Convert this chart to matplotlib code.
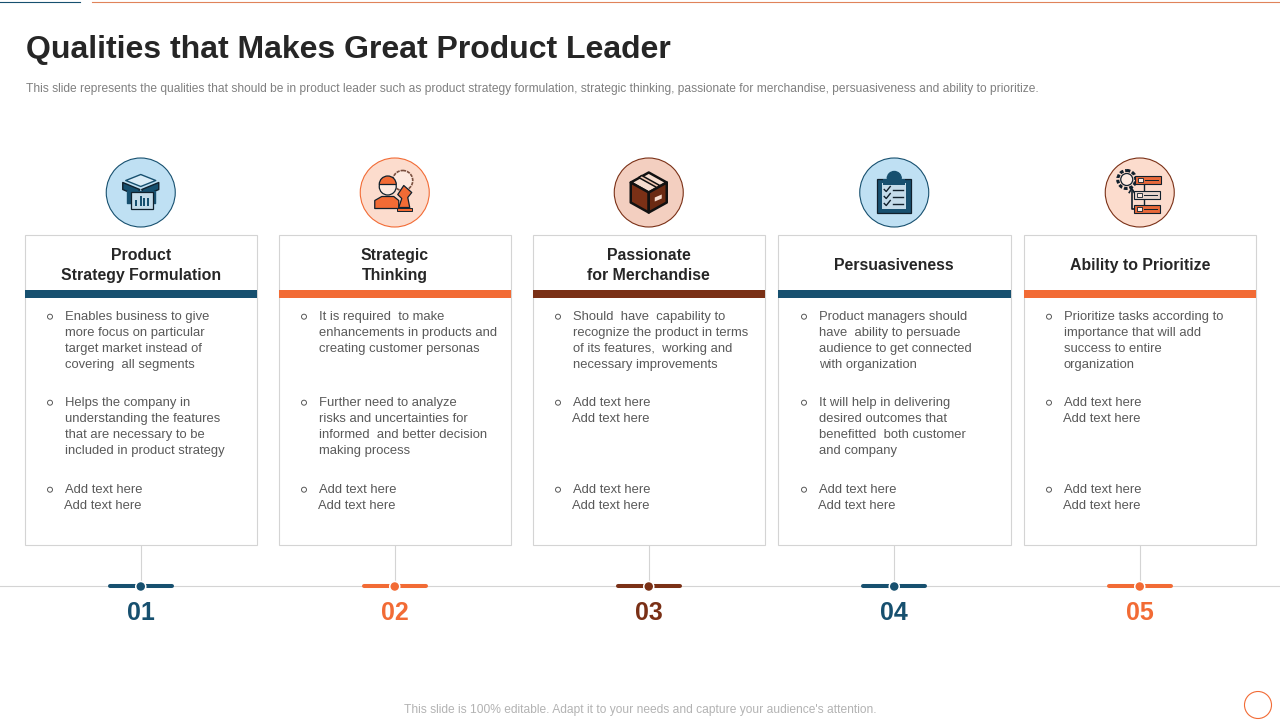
import matplotlib
matplotlib.use('Agg')
import matplotlib.pyplot as plt, matplotlib.patches as mpatches

plt.rcParams['font.family'] = ['Liberation Sans', 'DejaVu Sans']

NAVY = '#17506f'
ORANGE = '#f26b35'
BROWN = '#7a3016'
GREY_LINE = '#d4d4d4'
TEXT = '#595959'
DARK = '#262626'

title = 'Qualities that Makes Great Product Leader'
subtitle = ('This slide represents the qualities that should be in product leader such as product strategy '
            'formulation, strategic thinking, passionate for merchandise, persuasiveness and ability to prioritize.')
footer = "This slide is 100% editable. Adapt it to your needs and capture your audience's attention."

numbers = ['01', '02', '03', '04', '05']
headings = ['Product\nStrategy Formulation', 'Strategic\nThinking', 'Passionate\nfor Merchandise',
            'Persuasiveness', 'Ability to Prioritize']
card_colors = [NAVY, ORANGE, BROWN, NAVY, ORANGE]
circle_fill = ['#bfe0f3', '#fcdccd', '#f3cfc0', '#bfe0f3', '#fcdccd']
circle_edge = [NAVY, ORANGE, BROWN, NAVY, BROWN]
card_left = [25, 279, 533, 778, 1024]
card_right = [256.5, 510.5, 764.5, 1010.5, 1255.5]
text_left = [65, 319, 573, 819, 1064]

bullets = [
    [['Enables business to give', 'more focus on particular', 'target market instead of', 'covering  all segments'],
     ['Helps the company in', 'understanding the features', 'that are necessary to be', 'included in product strategy'],
     ['Add text here', 'Add text here']],
    [['It is required  to make', 'enhancements in products and', 'creating customer personas'],
     ['Further need to analyze', 'risks and uncertainties for', 'informed  and better decision', 'making process'],
     ['Add text here', 'Add text here']],
    [['Should  have  capability to', 'recognize the product in terms', 'of its features,  working and', 'necessary improvements'],
     ['Add text here', 'Add text here'],
     ['Add text here', 'Add text here']],
    [['Product managers should', 'have  ability to persuade', 'audience to get connected', 'with organization'],
     ['It will help in delivering', 'desired outcomes that', 'benefitted  both customer', 'and company'],
     ['Add text here', 'Add text here']],
    [['Prioritize tasks according to', 'importance that will add', 'success to entire', 'organization'],
     ['Add text here', 'Add text here'],
     ['Add text here', 'Add text here']],
]
bullet_y = [315, 401, 488]


def rect(ax, x, y, w, h, fc, ec='none', lw=0, z=3):
    ax.add_patch(mpatches.Rectangle((x, y), w, h, fc=fc, ec=ec, lw=lw, zorder=z))


def poly(ax, pts, fc, ec='#10202c', lw=1.0, z=4):
    ax.add_patch(mpatches.Polygon(pts, closed=True, fc=fc, ec=ec, lw=lw, zorder=z, joinstyle='round'))


def icon_box_chart(ax, cx, cy):
    poly(ax, [(cx-15, cy-12), (cx, cy-18), (cx+15, cy-12), (cx, cy-6)], '#d9ecf7', NAVY)
    poly(ax, [(cx-18, cy-10), (cx-1, cy-3), (cx-4, cy+3), (cx-18, cy-3)], NAVY)
    poly(ax, [(cx+18, cy-10), (cx+1, cy-3), (cx+4, cy+3), (cx+18, cy-3)], NAVY)
    poly(ax, [(cx-14, cy-2), (cx+14, cy-2), (cx+14, cy+10), (cx-14, cy+10)], NAVY, NAVY)
    rect(ax, cx-10, cy-1, 22, 17, '#c4dcea', '#10202c', 0.9, z=5)
    for dx, h in zip([-5, 0, 3, 7], [6, 10, 8, 8]):
        rect(ax, cx+dx-1, cy+13-h, 2.6, h, NAVY, z=6)


def icon_person(ax, cx, cy):
    # gear behind the head
    ax.add_patch(mpatches.Circle((cx+8, cy-12), 10, fc='#fde9df', ec='#7a5040', lw=1.2, ls=(0, (2, 0.6)), zorder=4))
    ax.add_patch(mpatches.Circle((cx-7, cy-6), 8.5, fc='#fde9df', ec='#10202c', lw=0.9, zorder=5))
    ax.add_patch(mpatches.Wedge((cx-7, cy-8), 8.5, 180, 360, fc=ORANGE, ec='#10202c', lw=0.9, zorder=6))
    poly(ax, [(cx-20, cy+16), (cx-20, cy+8), (cx-13, cy+4), (cx-1, cy+4), (cx+4, cy+8), (cx+4, cy+16)], ORANGE, lw=0.9, z=6)
    poly(ax, [(cx+4, cy+15), (cx+7, cy+6), (cx+3, cy+2), (cx+9, cy-7), (cx+17, cy), (cx+13, cy+5), (cx+15, cy+15)], ORANGE, lw=0.9, z=7)
    rect(ax, cx+2, cy+15, 15, 3, ORANGE, '#10202c', 0.7, z=8)


def icon_parcel(ax, cx, cy):
    poly(ax, [(cx-18, cy-10), (cx, cy-20), (cx+18, cy-10), (cx, cy)], '#f7ddcf', '#111111', 1.8)
    poly(ax, [(cx-18, cy-10), (cx, cy), (cx, cy+20), (cx-18, cy+10)], BROWN, '#111111', 1.8)
    poly(ax, [(cx+18, cy-10), (cx, cy), (cx, cy+20), (cx+18, cy+10)], '#6b2a12', '#111111', 1.8)
    poly(ax, [(cx-10, cy-15), (cx+8, cy-5), (cx+11, cy-7), (cx-7, cy-17)], '#f0c7b2', '#111111', 1.1, z=5)
    poly(ax, [(cx+6, cy+5), (cx+13, cy+2), (cx+13, cy+6), (cx+6, cy+9)], '#f7ddcf', 'none', 0, z=5)


def icon_clipboard(ax, cx, cy):
    rect(ax, cx-17, cy-14, 34, 34, NAVY, '#10202c', 0.9, z=4)
    rect(ax, cx-12, cy-10, 24, 26, '#c4dcea', z=5)
    ax.add_patch(mpatches.Wedge((cx, cy-14), 7, 180, 360, fc=NAVY, ec=NAVY, zorder=6))
    rect(ax, cx-11, cy-14, 22, 6, NAVY, z=6)
    for dy in [-3, 4, 11]:
        ax.plot([cx-10, cx-8, cx-4], [dy+cy, dy+cy+2, dy+cy-3], color='#10202c', lw=1.0, zorder=7)
        ax.plot([cx-1, cx+9], [dy+cy, dy+cy], color='#10202c', lw=1.0, zorder=7)


def icon_flow(ax, cx, cy):
    ax.plot([cx+4, cx+4], [cy-8, cy+14], color='#10202c', lw=1.0, zorder=4)
    ax.plot([cx-8, cx-8, cx-3], [cy-2, cy+16, cy+16], color='#10202c', lw=1.2, zorder=4)
    ax.plot([cx-10.5, cx-8, cx-5.5], [cy, cy-4, cy], color='#10202c', lw=1.2, zorder=4)
    ax.add_patch(mpatches.Circle((cx-13, cy-13), 9, fc='#fcdccd', ec='#10202c', lw=2.2, ls=(0, (1.2, 0.6)), zorder=5))
    ax.add_patch(mpatches.Circle((cx-13, cy-13), 6, fc='#fde9df', ec='#10202c', lw=0.9, zorder=6))
    for y0, fc, x0 in [(-17, '#e8693a', -5), (-2, '#e6d5cd', -6), (12, '#e8693a', -6)]:
        rect(ax, cx+x0, cy+y0, 26, 8, fc, '#10202c', 0.8, z=5)
        rect(ax, cx+x0+3, cy+y0+2, 5, 4, '#fde9df', '#10202c', 0.6, z=6)
        ax.plot([cx+x0+10, cx+x0+23], [cy+y0+4, cy+y0+4], color='#10202c', lw=0.7, zorder=6)


icon_funcs = [icon_box_chart, icon_person, icon_parcel, icon_clipboard, icon_flow]

fig = plt.figure(figsize=(12.8, 7.2), dpi=100)
ax = fig.add_axes([0, 0, 1, 1])
ax.set_xlim(0, 1280)
ax.set_ylim(720, 0)
ax.axis('off')

# top rules
ax.plot([0, 80], [2, 2], color=NAVY, lw=0.8)
ax.plot([92, 1280], [2, 2], color='#e0835a', lw=0.8)

ax.text(26, 50, title, fontsize=23.05, fontweight='bold', color=DARK, va='center', ha='left')
ax.text(26, 89, subtitle, fontsize=8.62, color='#808080', va='center', ha='left')

# baseline behind the numbers
ax.plot([0, 1280], [586, 586], color=GREY_LINE, lw=0.8, zorder=1)

for i in range(5):
    left, right = card_left[i], card_right[i]
    cx = (left + right) / 2
    col = card_colors[i]

    rect(ax, left, 235, right - left, 310, 'white', GREY_LINE, 0.8, z=2)
    rect(ax, left, 290, right - left, 8, col, z=3)
    ax.text(cx, 265.5, headings[i], fontsize=11.45, fontweight='bold', color=DARK, ha='center', va='center', linespacing=1.37)

    # icon on its circle
    ax.add_patch(mpatches.Circle((cx, 192.5), 34.5, fc=circle_fill[i], ec=circle_edge[i], lw=0.8, zorder=3))
    icon_funcs[i](ax, cx, 192.5)

    for y0, lines in zip(bullet_y, bullets[i]):
        ax.add_patch(mpatches.Circle((text_left[i] - 15, y0 + 1.7), 2.5, fc='white', ec='#595959', lw=0.7, zorder=4))
        for j, line in enumerate(lines):
            # second "Add text here" sits one pixel left in the slide
            xoff = -1 if line == 'Add text here' and j == 1 else 0
            ax.text(text_left[i] + xoff, y0 + 2 + j * 16, line, fontsize=9.4, color=TEXT, va='center', ha='left', zorder=4)

    # connector, tick bar, number
    ax.plot([cx, cx], [545, 586], color=GREY_LINE, lw=0.8, zorder=1)
    ax.plot([cx - 31, cx + 31], [586, 586], color=col, lw=2.9, solid_capstyle='round', zorder=3)
    ax.add_patch(mpatches.Circle((cx, 586.5), 5, fc=col, ec='white', lw=1.1, zorder=4))
    ax.text(cx, 612.5, numbers[i], fontsize=18, fontweight='bold', color=col, ha='center', va='center')

ax.text(640, 710.5, footer, fontsize=8.62, color='#b3b3b3', ha='center', va='center')
ax.add_patch(mpatches.Circle((1258, 705), 13.5, fc='white', ec=ORANGE, lw=0.8, zorder=3))

fig.savefig('out.png', dpi=100)
